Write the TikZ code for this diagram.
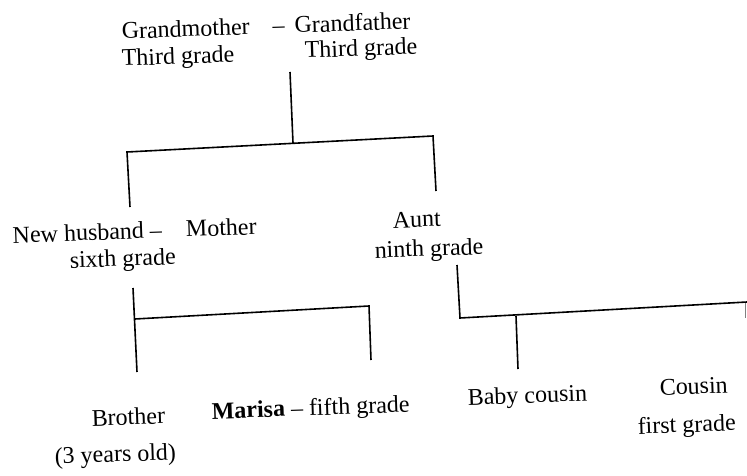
\documentclass[tikz,border=0pt]{standalone}
\usepackage{fontspec}
\setmainfont{Liberation Serif}
\begin{document}
\begin{tikzpicture}[x=1pt,y=-1pt,
  lbl/.style={anchor=base west,inner sep=0pt,outer sep=0pt,rotate=2,font=\fontsize{24}{28}\selectfont},
  tree/.style={line width=1.6pt,line join=miter}]
\useasboundingbox (0,0) rectangle (747,476);
% texts
\node[lbl] (gp) at (122,39) {Grandmother\hspace{23pt}–\hspace{10pt}Grandfather};
\node[lbl] (gmg) at (122,66) {Third grade};
\node[lbl] (gfg) at (305,58) {Third grade};
\node[lbl] (nh) at (13,243) {New husband –\hspace{24pt}Mother};
\node[lbl] (sixth) at (70,268) {sixth grade};
\node[lbl] (aunt) at (393,228) {Aunt};
\node[lbl] (ninth) at (375,258) {ninth grade};
\node[lbl] (brother) at (92,426) {Brother};
\node[lbl] (age) at (55,464) {(3 years old)};
\node[lbl] (marisa) at (212,419) {\textbf{Marisa} – fifth grade};
\node[lbl] (baby) at (468,405) {Baby cousin};
\node[lbl] (cousin) at (660,395) {Cousin};
\node[lbl] (first) at (638,434) {first grade};
% junction points
\coordinate (gpd) at (290,72);
\coordinate (gpj) at (293,143);
\coordinate (tl) at (127,152);
\coordinate (tr) at (433,136);
\coordinate (tle) at (130,207);
\coordinate (tre) at (436,191);
\coordinate (mt) at (133,288);
\coordinate (mj) at (135,319);
\coordinate (mb) at (137,372);
\coordinate (mr) at (369,306);
\coordinate (mre) at (371,360);
\coordinate (at) at (457,265);
\coordinate (ac) at (460,318);
\coordinate (ar) at (747,302);
\coordinate (bt) at (516,316);
\coordinate (bb) at (518,369);
\coordinate (ct) at (745,303);
\coordinate (cb) at (745,318);
% connectors
\draw[tree] (gpd) -- (gpj);
\draw[tree] (tle) -- (tl) -- (tr) -- (tre);
\draw[tree] (mt) -- (mb);
\draw[tree] (mj) -- (mr) -- (mre);
\draw[tree] (at) -- (ac) -- (ar);
\draw[tree] (bt) -- (bb);
\draw[tree,line width=0.8pt,gray] (ct) -- (cb);
\end{tikzpicture}
\end{document}
